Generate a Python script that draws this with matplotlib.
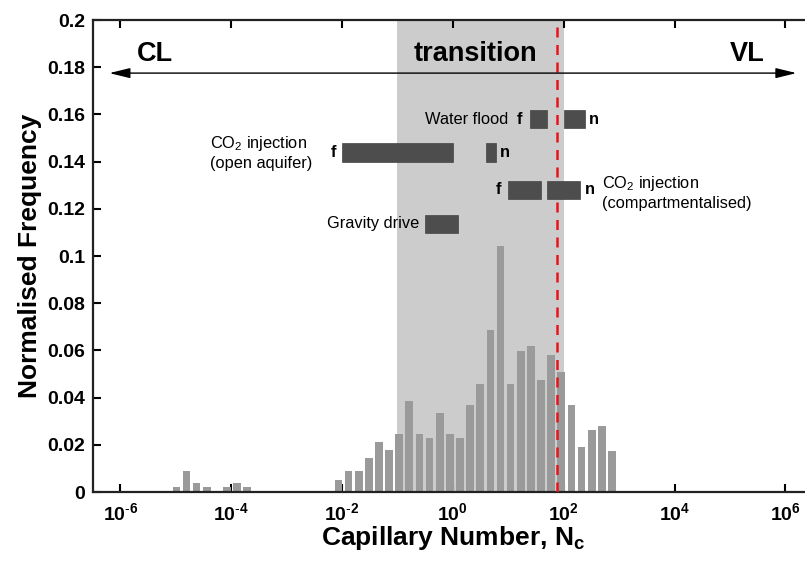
import numpy as np
import matplotlib
matplotlib.use('Agg')
import matplotlib.pyplot as plt
from matplotlib.ticker import FixedLocator, FuncFormatter

plt.rcParams['font.family'] = ['Liberation Sans', 'DejaVu Sans']
plt.rcParams['mathtext.fontset'] = 'custom'
plt.rcParams['mathtext.rm'] = 'Liberation Sans'
plt.rcParams['mathtext.it'] = 'Liberation Sans'
plt.rcParams['mathtext.bf'] = 'Liberation Sans:bold'

# 1. histogram data (log10 bins)
bin_start = -5.06   # log10 left edge of first bin
bin_step = 0.1828   # log10 bin pitch
bar_frac = 0.76     # bar width as fraction of pitch
freq = [0.002, 0.009, 0.004, 0.002, 0.0, 0.002, 0.004, 0.002,
        0.0, 0.0, 0.0, 0.0, 0.0, 0.0, 0.0, 0.0,
        0.0052, 0.0088, 0.0088, 0.0142, 0.0212, 0.0176, 0.0244, 0.0386,
        0.0244, 0.0228, 0.0334, 0.0244, 0.0228, 0.0369, 0.0458, 0.0686,
        0.1042, 0.0458, 0.0598, 0.0617, 0.0475, 0.0582, 0.0510, 0.0369,
        0.0190, 0.0263, 0.0280, 0.0174]

# 2. regimes
transition_range = [0.1, 100]
critical_nc = 77

# 3. process ranges (log10 Nc): low, high, y
proc_names = ['water_f', 'water_n', 'co2_open_f', 'co2_open_n',
              'co2_comp_f', 'co2_comp_n', 'gravity']
proc_lo = [1.39, 2.0, -2.0, 0.6, 1.0, 1.69, -0.51]
proc_hi = [1.69, 2.39, 0.0, 0.77, 1.59, 2.29, 0.1]
proc_y = [0.158, 0.158, 0.1438, 0.1438, 0.128, 0.128, 0.1136]

yticks = np.arange(0, 0.2001, 0.02)
xticks = [1e-6, 1e-4, 1e-2, 1e0, 1e2, 1e4, 1e6]

fig = plt.figure(figsize=(8.05, 5.65), dpi=100)
ax = fig.add_axes([0.1152, 0.1292, 0.8948, 0.8354])
ax.set_xscale('log')
ax.set_xlim(10**-6.5, 10**6.5)
ax.set_ylim(0, 0.2)

# shaded transition zone
ax.axvspan(transition_range[0], transition_range[1], color='#cccccc', lw=0, zorder=0)

# histogram bars
for i, f in enumerate(freq):
    if f <= 0:
        continue
    left = bin_start + i * bin_step
    x0 = 10**left
    x1 = 10**(left + bar_frac * bin_step)
    ax.bar(x0, f, width=x1 - x0, align='edge', color='#9a9a9a', lw=0, zorder=2)

# critical line
ax.axvline(critical_nc, color='#e8141c', ls=(0, (4, 3)), lw=1.8, zorder=3)

# process bars
for lo, hi, yy in zip(proc_lo, proc_hi, proc_y):
    ax.barh(yy, 10**hi - 10**lo, left=10**lo, height=0.0079,
            color='#4d4d4d', edgecolor='#444444', lw=0.5, zorder=4)

# arrow
ax.annotate('', xy=(10**-6.2, 0.1775), xytext=(10**6.2, 0.1775),
            arrowprops=dict(arrowstyle='<|-|>,head_length=0.9,head_width=0.22',
                            color='black', lw=1.0, mutation_scale=14,
                            shrinkA=0, shrinkB=0), zorder=5)
bfs = 19.5
ax.text(10**-5.38, 0.1855, 'CL', fontsize=bfs, fontweight='bold', ha='center', va='center')
ax.text(10**5.31, 0.1855, 'VL', fontsize=bfs, fontweight='bold', ha='center', va='center')
ax.text(10**0.415, 0.1855, 'transition', fontsize=bfs, fontweight='bold', ha='center', va='center')

# labels for processes
fs = 11.8
ax.text(10**1.0, 0.158, 'Water flood', fontsize=fs, ha='right', va='center')
ax.text(10**1.21, 0.158, 'f', fontsize=fs, fontweight='bold', ha='center', va='center')
ax.text(10**2.55, 0.158, 'n', fontsize=fs, fontweight='bold', ha='center', va='center')
ax.text(10**-4.383, 0.1439, 'CO$_2$ injection\n(open aquifer)', fontsize=fs,
        ha='left', va='center', linespacing=1.3)
ax.text(10**-2.16, 0.1438, 'f', fontsize=fs, fontweight='bold', ha='center', va='center')
ax.text(10**0.93, 0.1438, 'n', fontsize=fs, fontweight='bold', ha='center', va='center')
ax.text(10**0.82, 0.128, 'f', fontsize=fs, fontweight='bold', ha='center', va='center')
ax.text(10**2.48, 0.128, 'n', fontsize=fs, fontweight='bold', ha='center', va='center')
ax.text(10**2.69, 0.1269, 'CO$_2$ injection\n(compartmentalised)', fontsize=fs,
        ha='left', va='center', linespacing=1.3)
ax.text(10**-0.615, 0.1136, 'Gravity drive', fontsize=fs, ha='right', va='center')

# axes styling
ax.xaxis.set_major_locator(FixedLocator(xticks))
ax.xaxis.set_minor_locator(FixedLocator([]))


def exp_label(v, p):
    e = int(round(np.log10(v)))
    if e < 0:
        return r'$\mathbf{10^{\text{-}%d}}$' % (-e)
    return r'$\mathbf{10^{%d}}$' % e


ax.xaxis.set_major_formatter(FuncFormatter(exp_label))
ax.set_yticks(yticks)
ax.set_yticklabels(['%g' % round(v, 2) for v in yticks])
ax.tick_params(direction='in', length=6, width=1.5, top=True, right=True,
               labelsize=14)
ax.tick_params(axis='y', pad=5.5)
ax.tick_params(axis='x', pad=7)
for lab in ax.get_yticklabels():
    lab.set_fontweight('bold')
for s in ax.spines.values():
    s.set_linewidth(1.6)
    s.set_color('#222222')

ax.set_xlabel('Capillary Number, $\\mathbf{N_c}$', fontsize=19, fontweight='bold', labelpad=0)
ax.set_ylabel('Normalised Frequency', fontsize=19, fontweight='bold', labelpad=4)

fig.savefig('out.png', dpi=100)
